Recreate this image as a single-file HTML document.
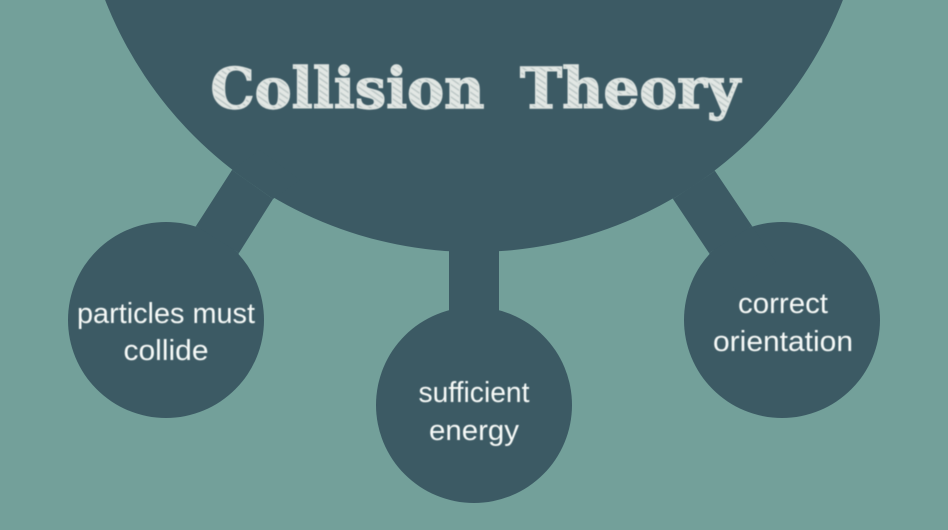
<!DOCTYPE html>
<html>
<head>
<meta charset="utf-8">
<style>
html,body{margin:0;padding:0;background:#73a09a;width:948px;height:530px;overflow:hidden}
svg{display:block}
text{text-anchor:middle}
.n{font-family:"Liberation Sans",sans-serif;font-size:29px;fill:#f6f9f7;filter:url(#b)}
.t{font-family:"DejaVu Serif",serif;font-weight:bold;font-size:56px;fill:url(#chalk);stroke:#dde3e0;stroke-width:1.4px;filter:url(#b)}
</style>
</head>
<body>
<svg width="948" height="530" viewBox="0 0 948 530" xmlns="http://www.w3.org/2000/svg">
<defs>
<filter id="b" x="-5%" y="-20%" width="110%" height="140%"><feGaussianBlur stdDeviation="0.45"/></filter>
<pattern id="chalk" width="5" height="5" patternUnits="userSpaceOnUse" patternTransform="rotate(35)">
<rect width="5" height="5" fill="#e2e7e4"/>
<rect width="5" height="1.5" fill="#bcc7c6"/>
</pattern>
</defs>
<rect width="948" height="530" fill="#73a09a"/>
<g fill="#3c5a64">
<circle cx="474" cy="-144" r="396"/>
<circle cx="166" cy="320" r="98"/>
<circle cx="474" cy="405" r="98"/>
<circle cx="782" cy="320" r="98"/>
<path d="M232 170L273 199L300 180L260 150Z"/>
<polygon points="232,170 273,199 239,253 196,226"/>
<polygon points="196,226 239,253 215,290 172,262"/>
<path d="M715 171L673 199L650 175L690 150Z"/>
<polygon points="715,171 673,199 709,253 752,226"/>
<polygon points="752,226 709,253 735,290 776,262"/>
<rect x="449" y="240" width="50" height="80"/>
</g>
<text class="t" x="347.5" y="108" textLength="274" lengthAdjust="spacingAndGlyphs">Collision</text>
<text class="t" x="630" y="108" textLength="220" lengthAdjust="spacingAndGlyphs">Theory</text>
<text class="n" x="166" y="323" textLength="178" lengthAdjust="spacingAndGlyphs">particles must</text>
<text class="n" x="166" y="360" textLength="85" lengthAdjust="spacingAndGlyphs">collide</text>
<text class="n" x="474" y="402" textLength="111" lengthAdjust="spacingAndGlyphs">sufficient</text>
<text class="n" x="474" y="440" textLength="90" lengthAdjust="spacingAndGlyphs">energy</text>
<text class="n" x="783" y="313" textLength="90" lengthAdjust="spacingAndGlyphs">correct</text>
<text class="n" x="783" y="351" textLength="140" lengthAdjust="spacingAndGlyphs">orientation</text>
</svg>
</body>
</html>
